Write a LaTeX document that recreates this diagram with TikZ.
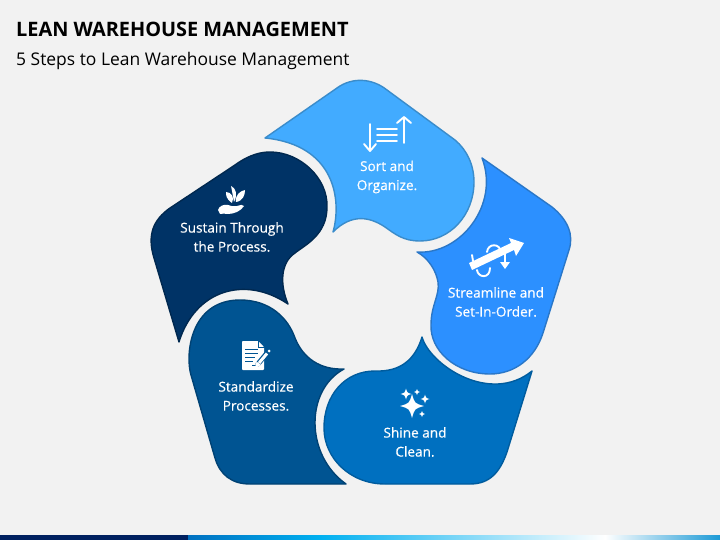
\documentclass[tikz,border=0pt]{standalone}
\usepackage{fontspec}
\setmainfont{Open Sans}
\newfontfamily\lblfont[FakeBold=0.45]{Open Sans}
\definecolor{bgc}{HTML}{F2F2F2}
\definecolor{cSort}{HTML}{42ABFF}\definecolor{sSort}{HTML}{3A8CCB}
\definecolor{cStream}{HTML}{2C90FF}\definecolor{sStream}{HTML}{2A77C8}
\definecolor{cShine}{HTML}{0070C0}\definecolor{sShine}{HTML}{005C9E}
\definecolor{cStd}{HTML}{005492}\definecolor{sStd}{HTML}{004274}
\definecolor{cSus}{HTML}{003366}\definecolor{sSus}{HTML}{00284F}
\definecolor{barA}{HTML}{002060}\definecolor{barB}{HTML}{00B0F0}\definecolor{barC}{HTML}{1C9AD6}
\tikzset{
  petal/.style={line width=1.4pt,line join=round},
  lbl/.style={text=white,align=center,font=\lblfont\fontsize{13.6}{19}\selectfont,inner sep=0pt},
  ico/.style={draw=white,line width=1.9pt,line cap=round,line join=round},
}
\newcommand{\spark}[3]{\fill[white] (#1,#2-#3) .. controls (#1+.22*#3,#2-.22*#3) .. (#1+#3,#2) .. controls (#1+.22*#3,#2+.22*#3) .. (#1,#2+#3) .. controls (#1-.22*#3,#2+.22*#3) .. (#1-#3,#2) .. controls (#1-.22*#3,#2-.22*#3) .. (#1,#2-#3) -- cycle;}
\begin{document}
\begin{tikzpicture}[x=1pt,y=-1pt]
\useasboundingbox (0,0) rectangle (720,540);
\fill[bgc] (0,0) rectangle (720,540);
% bottom bar
\fill[barA] (0,535) rectangle (188,540);
\fill[left color=cShine,right color=barB] (188,535) rectangle (320,540);
\fill[left color=barB,right color=white] (320,535) rectangle (605,540);
\fill[left color=white,right color=barC] (605,535) rectangle (720,540);
% title
\node[anchor=west,inner sep=0pt,font=\fontsize{19.9}{22}\bfseries\selectfont,text=black] (title) at (16,29) {LEAN WAREHOUSE MANAGEMENT};
\node[anchor=west,inner sep=0pt,font=\fontsize{17.45}{20}\selectfont,text=black] (subtitle) at (16,61) {5 Steps to Lean Warehouse Management};
% petals
\draw[petal,fill=cSort,draw=sSort] (265,138) -- (337,88) .. controls (352,77) and (372,78) .. (387,90) -- (455,140) .. controls (467,150) and (474,165) .. (474,182) .. controls (474,215) and (450,241) .. (420,241) .. controls (403,241) and (395,234) .. (385,227) .. controls (370,217) and (352,213) .. (333,232) .. controls (342,200) and (335,145) .. (265,138) -- cycle;
\draw[petal,fill=cStream,draw=sStream] (482,158) -- (552,207) .. controls (568,220) and (574,235) .. (569,250) -- (543,333) .. controls (535,358) and (515,374) .. (490,374) .. controls (455,374) and (430,350) .. (431,325) .. controls (431,305) and (440,295) .. (438,282) .. controls (436,270) and (428,258) .. (417,252) .. controls (460,255) and (500,205) .. (482,158) -- cycle;
\draw[petal,fill=cShine,draw=sShine] (422,337) .. controls (430,365) and (490,405) .. (532,371) -- (507,452) .. controls (500,472) and (490,484) .. (470,484) -- (385,484) .. controls (350,484) and (324,458) .. (324,428) .. controls (324,395) and (345,371) .. (375,371) .. controls (400,372) and (415,360) .. (422,337) -- cycle;
\draw[petal,fill=cStd,draw=sStd] (344,369) .. controls (305,390) and (305,455) .. (346,484) -- (250,484) .. controls (232,484) and (220,475) .. (215,458) -- (191,375) .. controls (185,355) and (190,300) .. (240,300) .. controls (270,300) and (288,318) .. (295,338) .. controls (303,358) and (320,370) .. (344,369) -- cycle;
\draw[petal,fill=cSus,draw=sSus] (179,342) -- (154,258) .. controls (147,235) and (153,220) .. (170,208) -- (235,165) .. controls (250,154) and (262,152) .. (270,152) .. controls (300,152) and (328,178) .. (327,207) .. controls (327,235) and (305,245) .. (295,253) .. controls (280,263) and (280,285) .. (288,304) .. controls (245,275) and (195,290) .. (179,342) -- cycle;
% labels
\node[lbl] (sort) at (387,177) {Sort and\\Organize.};
\node[lbl] (stream) at (496,302) {Streamline and\\Set-In-Order.};
\node[lbl] (shine) at (415,442) {Shine and\\Clean.};
\node[lbl] (std) at (256,396) {Standardize\\Processes.};
\node[lbl] (sus) at (232,237) {Sustain Through\\the Process.};
% sort icon
\draw[ico] (370,124) -- (370,151) (364,144) -- (370,151) -- (376,144);
\draw[ico] (377,129) -- (397,129) (377,135) -- (397,135) (377,141) -- (397,141);
\draw[ico] (404,117) -- (404,143) (397,123) -- (404,117) -- (411,123);
% stream icon
\draw[ico] (487,252) .. controls (488,243) and (500,243) .. (501,252);
\draw[ico] (477,270) .. controls (478,278) and (490,279) .. (490,268);
\draw[ico] (472,255) -- (473,261);
\draw[ico,line width=1.4pt] (505,254) -- (505,264);
\fill[white] (500,262) -- (510,262) -- (505,269) -- cycle;
\fill[white] (469,263) -- (511,243) -- (509,238) -- (524,243) -- (516,256) -- (514,250) -- (472,270) -- cycle;
% hand icon
\fill[white] (218,210) .. controls (219,206) and (224,204) .. (228,205) .. controls (231,206) and (234,207) .. (237,206) .. controls (240,205) and (243,204) .. (244,206) .. controls (241,211) and (234,214) .. (228,214) .. controls (225,214) and (222,213) .. (220,214) -- cycle;
\fill[white] (232,203) .. controls (226,199) and (226,195) .. (226,192) .. controls (231,192) and (235,197) .. (232,203) -- cycle;
\fill[white] (234,202) .. controls (233,196) and (232,191) .. (231,186) .. controls (236,188) and (238,195) .. (234,202) -- cycle;
\fill[white] (236,202) .. controls (235,195) and (240,191) .. (245,190) .. controls (245,195) and (243,201) .. (236,202) -- cycle;
% document icon
\fill[white,rounded corners=0.8pt] (242,341) -- (258,341) -- (264,347) -- (264,370) -- (242,370) -- cycle;
\draw[cStd,line width=1pt] (245,349) -- (258,349) (245,353) -- (258,353) (245,357) -- (255,357) (245,361) -- (253,361) (252,365.5) -- (259,365.5);
\draw[cStd,line width=1pt] (258,341) -- (258,347) -- (264,347);
\draw[cStd,line width=5pt,line cap=round] (258,364) -- (267,353);
\draw[white,line width=3pt] (259,363) -- (267,353.5);
\fill[white] (255,368) -- (256.5,361.5) -- (261,365) -- cycle;
\fill[white] (269,351) circle (1.5);
% sparkles
\spark{412}{406}{12}
\spark{406}{394}{5.5}
\spark{417}{392}{3}
\spark{425}{399}{4.5}
\spark{422}{414}{3}
\end{tikzpicture}
\end{document}
